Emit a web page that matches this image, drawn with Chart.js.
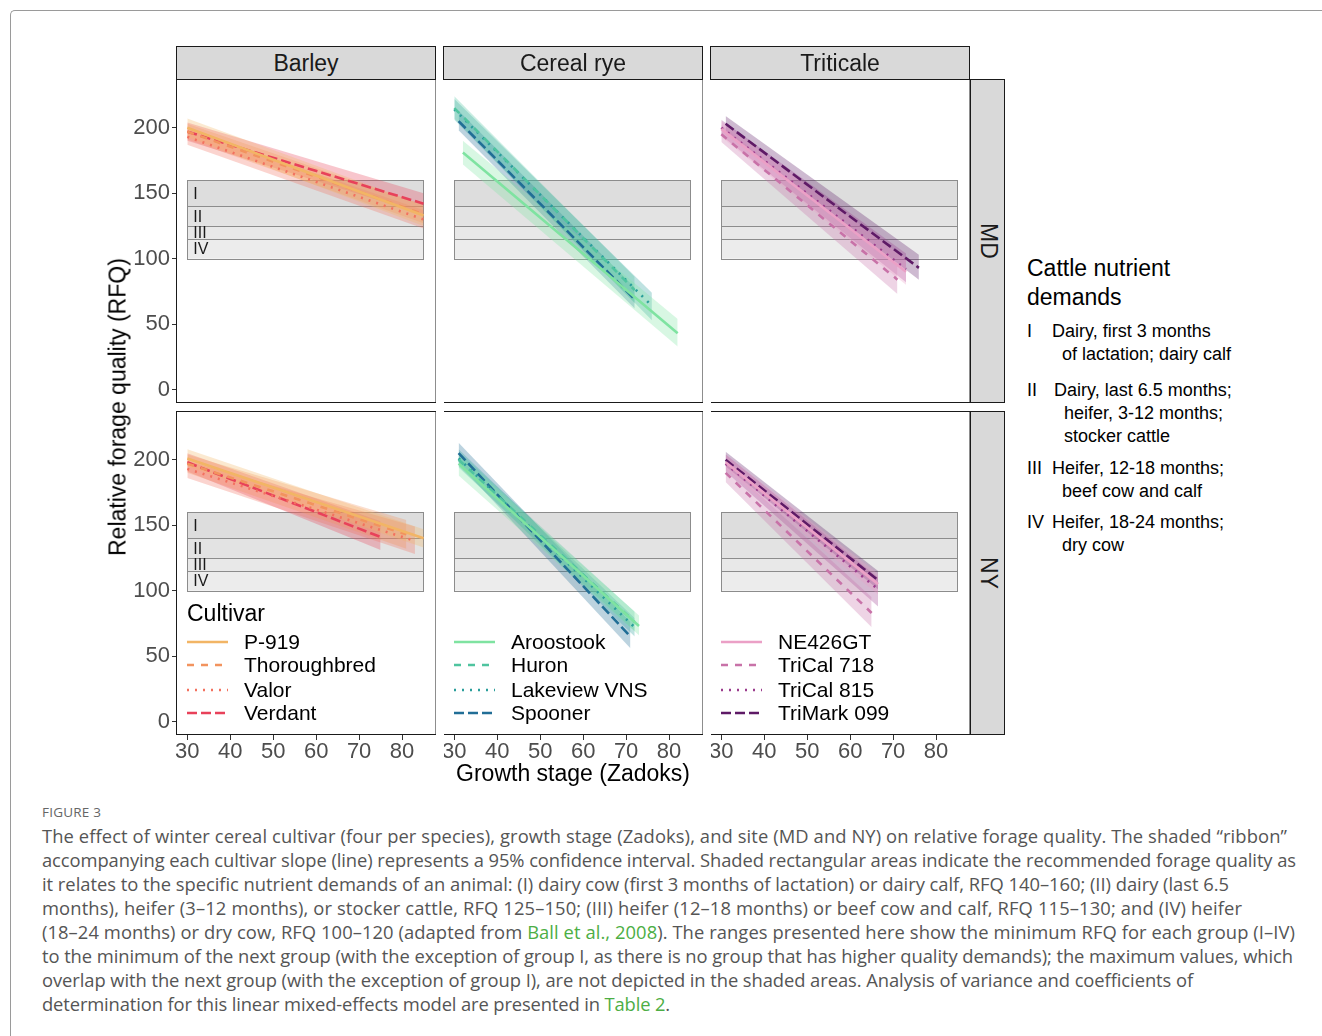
<!DOCTYPE html>
<html><head><meta charset="utf-8">
<script src="https://cdn.jsdelivr.net/npm/chart.js@4.4.0/dist/chart.umd.min.js"></script>
<style>
body{margin:0;background:#fff;width:1322px;height:1036px;overflow:hidden;position:relative;font-family:"Liberation Sans",Arial,sans-serif;color:#000;}
canvas{position:absolute;}
.t{position:absolute;white-space:nowrap;line-height:1;}
.strip{position:absolute;background:#d9d9d9;border:1px solid #1a1a1a;box-sizing:border-box;font-size:23px;color:#1a1a1a;}
.strip span{position:absolute;left:50%;top:50%;transform:translate(-50%,-50%);white-space:nowrap;}
.vstrip span{transform:translate(-50%,-50%) rotate(90deg);}
.leg{position:absolute;font-size:21px;white-space:nowrap;}
.legrow{position:absolute;height:24px;display:flex;align-items:center;}
.legrow svg{margin-right:16px;}
.cap{position:absolute;left:42px;white-space:nowrap;font-family:"Open Sans","Noto Sans",sans-serif;color:#555;line-height:1;}
.cap a{color:#4cae44;text-decoration:none;}
.page{position:absolute;left:10px;top:10px;width:1400px;height:1100px;border-left:1px solid #9a9a9a;border-top:1px solid #9a9a9a;border-top-left-radius:5px;box-sizing:border-box;}
</style>
</head><body>
<div class="page"></div>
<div id="root"></div>
<script>
// ---------------- data ----------------
const xTicks = [30, 40, 50, 60, 70, 80];
const yTicks = [0, 50, 100, 150, 200];
const species = ['Barley', 'Cereal rye', 'Triticale'];
const sites = ['MD', 'NY'];

const bandLabels = ['I', 'II', 'III', 'IV'];
const bandMin = [140, 125, 115, 100];
const bandMax = [160, 140, 125, 115];
const bandStage = [30, 85];

const barleyCultivars = ['P-919', 'Thoroughbred', 'Valor', 'Verdant'];
const ryeCultivars = ['Aroostook', 'Huron', 'Lakeview VNS', 'Spooner'];
const triticaleCultivars = ['NE426GT', 'TriCal 718', 'TriCal 815', 'TriMark 099'];

// [start, end] growth stage, fitted RFQ, lower and upper 95% CI
const barleyMD_stage = [[30, 85], [30, 85], [30, 85], [30, 85]];
const barleyMD_rfq   = [[200, 133], [197, 134], [193, 130], [197, 142]];
const barleyMD_lower = [[193, 125], [191, 127], [187, 123], [190, 134]];
const barleyMD_upper = [[207, 141], [203, 141], [199, 137], [204, 150]];

const barleyNY_stage = [[30, 85], [30, 81], [30, 83], [30, 75]];
const barleyNY_rfq   = [[201, 140], [197, 143], [193, 138], [198, 141]];
const barleyNY_lower = [[195, 133], [190, 132], [186, 128], [191, 131]];
const barleyNY_upper = [[208, 147], [204, 154], [199, 149], [205, 153]];

const ryeMD_stage = [[32, 82], [30, 72], [30, 76], [31, 72]];
const ryeMD_rfq   = [[181, 43], [215, 76], [214, 64], [205, 69]];
const ryeMD_lower = [[172, 33], [207, 66], [206, 53], [198, 62]];
const ryeMD_upper = [[190, 54], [224, 86], [222, 74], [213, 78]];

const ryeNY_stage = [[31, 73], [31, 72], [31, 72], [31, 71]];
const ryeNY_rfq   = [[197, 73], [200, 76], [201, 72], [205, 65]];
const ryeNY_lower = [[188, 66], [194, 69], [195, 65], [197, 56]];
const ryeNY_upper = [[204, 81], [206, 84], [208, 79], [213, 76]];

const triticaleMD_stage = [[30, 73], [30, 71], [30, 73], [31, 76]];
const triticaleMD_rfq   = [[199, 90], [195, 84], [200, 92], [203, 93]];
const triticaleMD_lower = [[193, 80], [189, 73], [194, 82], [197, 84]];
const triticaleMD_upper = [[205, 100], [202, 95], [206, 104], [209, 103]];

const triticaleNY_stage = [[31, 66.5], [31, 65], [31, 66.5], [31, 66.5]];
const triticaleNY_rfq   = [[198, 105], [190, 83], [197, 101], [200, 108]];
const triticaleNY_lower = [[193, 97], [183, 72], [191, 88], [195, 101]];
const triticaleNY_upper = [[204, 113], [197, 95], [204, 110], [206, 115]];

// ---------------- styles / layout ----------------
const FONT = '"Liberation Sans", Arial, sans-serif';
const palettes = [
  ['#F2B565', '#F2935E', '#F3715F', '#E8415A'],
  ['#7FE3A1', '#4FC49F', '#2A9E9B', '#216E96'],
  ['#EBA0C6', '#C872A8', '#9B3C8D', '#5E1A66']
];
const dashes = [[], [7, 7], [2, 6], [10, 4]];
const colLeft = [177, 444, 711];
const rowTop = [79, 411];
const panelW = 259, panelH = 324;
const yAxisW = 70, xAxisH = 40;
const xMin = 27.6, xMax = 87.9, yMin = -10.2, yMax = 237.2;

const panelData = [
  [[barleyMD_stage, barleyMD_rfq, barleyMD_lower, barleyMD_upper],
   [barleyNY_stage, barleyNY_rfq, barleyNY_lower, barleyNY_upper]],
  [[ryeMD_stage, ryeMD_rfq, ryeMD_lower, ryeMD_upper],
   [ryeNY_stage, ryeNY_rfq, ryeNY_lower, ryeNY_upper]],
  [[triticaleMD_stage, triticaleMD_rfq, triticaleMD_lower, triticaleMD_upper],
   [triticaleNY_stage, triticaleNY_rfq, triticaleNY_lower, triticaleNY_upper]]
];
const cultivarNames = [barleyCultivars, ryeCultivars, triticaleCultivars];

function hexA(hex, a) {
  const n = parseInt(hex.slice(1), 16);
  return `rgba(${(n >> 16) & 255},${(n >> 8) & 255},${n & 255},${a})`;
}

const bandPlugin = {
  id: 'bands',
  beforeDatasetsDraw(chart) {
    const {ctx, scales: {x, y}} = chart;
    const fills = ['#dddddd', '#e3e3e3', '#e8e8e8', '#ececec'];
    ctx.save();
    const x0 = x.getPixelForValue(bandStage[0]), x1 = x.getPixelForValue(bandStage[1]);
    for (let i = 0; i < bandMin.length; i++) {
      const yt = y.getPixelForValue(bandMax[i]), yb = y.getPixelForValue(bandMin[i]);
      ctx.fillStyle = fills[i];
      ctx.fillRect(x0, yt, x1 - x0, yb - yt);
    }
    ctx.strokeStyle = '#8c8c8c';
    ctx.lineWidth = 1;
    for (let i = 0; i < bandMin.length; i++) {
      const yt = y.getPixelForValue(bandMax[i]), yb = y.getPixelForValue(bandMin[i]);
      ctx.strokeRect(Math.round(x0) + 0.5, Math.round(yt) + 0.5, Math.round(x1 - x0), Math.round(yb - yt));
    }
    if (chart.options.plugins.bands.labels) {
      ctx.fillStyle = '#1a1a1a';
      ctx.font = '16px ' + FONT;
      ctx.textBaseline = 'middle';
      ctx.textAlign = 'left';
      for (let i = 0; i < bandMin.length; i++) {
        const ym = y.getPixelForValue((bandMax[i] + bandMin[i]) / 2);
        ctx.fillText(bandLabels[i], x.getPixelForValue(31.4), ym + 1);
      }
    }
    ctx.restore();
  }
};
const framePlugin = {
  id: 'frame',
  afterDraw(chart) {
    const {ctx, chartArea: a} = chart;
    ctx.save();
    ctx.strokeStyle = '#1a1a1a';
    ctx.lineWidth = 1;
    ctx.strokeRect(Math.round(a.left) - 0.5, Math.round(a.top) + 0.5, Math.round(a.right - a.left) + 0.5, Math.round(a.bottom - a.top) - 1);
    ctx.restore();
  }
};

const root = document.getElementById('root');
for (let c = 0; c < 3; c++) {
  for (let r = 0; r < 2; r++) {
    const showY = c === 0, showX = r === 1;
    const [stage, rfq, lower, upper] = panelData[c][r];
    const cv = document.createElement('canvas');
    const L = colLeft[c] - (showY ? yAxisW : 0);
    const W = panelW + (showY ? yAxisW : 0);
    const H = panelH + (showX ? xAxisH : 0);
    cv.width = W; cv.height = H;
    cv.style.left = L + 'px'; cv.style.top = rowTop[r] + 'px';
    cv.style.width = W + 'px'; cv.style.height = H + 'px';
    root.appendChild(cv);

    const ribbons = [], lines = [];
    for (let k = 0; k < 4; k++) {
      const col = palettes[c][k];
      ribbons.push({
        data: stage[k].map((s, i) => ({x: s, y: upper[k][i]})),
        borderWidth: 0, pointRadius: 0, fill: '+1',
        backgroundColor: hexA(col, 0.3), order: 1
      });
      ribbons.push({
        data: stage[k].map((s, i) => ({x: s, y: lower[k][i]})),
        borderWidth: 0, pointRadius: 0, fill: false, order: 1
      });
      lines.push({
        label: cultivarNames[c][k],
        data: stage[k].map((s, i) => ({x: s, y: rfq[k][i]})),
        borderColor: col, borderWidth: 2.6, borderDash: dashes[k],
        borderCapStyle: 'butt', pointRadius: 0, fill: false, order: 0
      });
    }
    new Chart(cv, {
      type: 'line',
      data: {datasets: ribbons.concat(lines)},
      options: {
        responsive: false, animation: false, devicePixelRatio: 1,
        layout: {padding: 0},
        plugins: {legend: {display: false}, tooltip: {enabled: false}, bands: {labels: c === 0}},
        elements: {line: {tension: 0}},
        scales: {
          x: {
            type: 'linear', min: xMin, max: xMax, display: showX,
            afterBuildTicks: s => { s.ticks = xTicks.map(v => ({value: v})); },
            afterFit: s => { s.height = showX ? xAxisH : 0; s.paddingLeft = 0; s.paddingRight = 0; },
            grid: {drawOnChartArea: false, drawTicks: true, tickLength: 5, color: '#333', lineWidth: 1},
            border: {display: false},
            ticks: {font: {size: 22, family: FONT}, color: '#4d4d4d', padding: -1, maxRotation: 0, autoSkip: false}
          },
          y: {
            type: 'linear', min: yMin, max: yMax, display: showY,
            afterBuildTicks: s => { s.ticks = yTicks.map(v => ({value: v})); },
            afterFit: s => { s.width = showY ? yAxisW : 0; s.paddingTop = 0; s.paddingBottom = 0; },
            grid: {drawOnChartArea: false, drawTicks: true, tickLength: 5, color: '#333', lineWidth: 1},
            border: {display: false},
            ticks: {font: {size: 22, family: FONT}, color: '#4d4d4d', padding: 2, autoSkip: false}
          }
        }
      },
      plugins: [bandPlugin, framePlugin]
    });
  }
}

// strips
function addEl(html) { root.insertAdjacentHTML('beforeend', html); }
for (let c = 0; c < 3; c++) {
  addEl(`<div class="strip" style="left:${colLeft[c] - 1}px;top:46px;width:${panelW + 1}px;height:34px"><span>${species[c]}</span></div>`);
}
for (let r = 0; r < 2; r++) {
  addEl(`<div class="strip vstrip" style="left:970px;top:${rowTop[r]}px;width:35px;height:${panelH}px"><span>${sites[r]}</span></div>`);
}
// axis titles
addEl(`<div class="t" style="font-size:23px;left:118px;top:407px;transform:translate(-50%,-50%) rotate(-90deg)">Relative forage quality (RFQ)</div>`);
addEl(`<div class="t" style="font-size:23px;left:573px;top:773px;transform:translate(-50%,-50%)">Growth stage (Zadoks)</div>`);

// cultivar legends
addEl(`<div class="t" style="font-size:23px;left:187px;top:613px;transform:translateY(-50%)">Cultivar</div>`);
const legY = [641.5, 665, 689.5, 713];
for (let c = 0; c < 3; c++) {
  for (let k = 0; k < 4; k++) {
    const da = dashes[k].length ? `stroke-dasharray="${dashes[k].join(',')}"` : '';
    addEl(`<div class="legrow" style="left:${colLeft[c] + 10}px;top:${legY[k] - 12}px">
      <svg width="41" height="6"><line x1="0" y1="3" x2="41" y2="3" stroke="${palettes[c][k]}" stroke-width="2.6" ${da}/></svg>
      <span class="leg" style="position:static">${cultivarNames[c][k]}</span></div>`);
  }
}

// nutrient demand legend
const demandTitle = ['Cattle nutrient', 'demands'];
const demandItems = [
  ['I', ['Dairy, first 3 months', 'of lactation; dairy calf'], 331],
  ['II', ['Dairy, last 6.5 months;', 'heifer, 3-12 months;', 'stocker cattle'], 390],
  ['III', ['Heifer, 12-18 months;', 'beef cow and calf'], 468],
  ['IV', ['Heifer, 18-24 months;', 'dry cow'], 522]
];
addEl(`<div class="t" style="font-size:23px;left:1027px;top:268px;transform:translateY(-50%)">${demandTitle[0]}</div>`);
addEl(`<div class="t" style="font-size:23px;left:1027px;top:297px;transform:translateY(-50%)">${demandTitle[1]}</div>`);
const firstX = {I: 1052, II: 1054, III: 1052, IV: 1052};
demandItems.forEach(([lab, lines, y0]) => {
  addEl(`<div class="t" style="font-size:18px;left:1027px;top:${y0}px;transform:translateY(-50%)">${lab}</div>`);
  lines.forEach((ln, i) => {
    const x = i === 0 ? firstX[lab] : firstX[lab] + 10;
    addEl(`<div class="t" style="font-size:18px;left:${x}px;top:${y0 + i * 23.2}px;transform:translateY(-50%)">${ln}</div>`);
  });
});

// caption
addEl(`<div class="cap" style="top:806px;font-size:13.5px;color:#666;letter-spacing:0.2px">FIGURE 3</div>`);
const capLines = [
  'The effect of winter cereal cultivar (four per species), growth stage (Zadoks), and site (MD and NY) on relative forage quality. The shaded “ribbon”',
  'accompanying each cultivar slope (line) represents a 95% confidence interval. Shaded rectangular areas indicate the recommended forage quality as',
  'it relates to the specific nutrient demands of an animal: (I) dairy cow (first 3 months of lactation) or dairy calf, RFQ 140–160; (II) dairy (last 6.5',
  'months), heifer (3–12 months), or stocker cattle, RFQ 125–150; (III) heifer (12–18 months) or beef cow and calf, RFQ 115–130; and (IV) heifer',
  '(18–24 months) or dry cow, RFQ 100–120 (adapted from <a>Ball et al., 2008</a>). The ranges presented here show the minimum RFQ for each group (I–IV)',
  'to the minimum of the next group (with the exception of group I, as there is no group that has higher quality demands); the maximum values, which',
  'overlap with the next group (with the exception of group I), are not depicted in the shaded areas. Analysis of variance and coefficients of',
  'determination for this linear mixed-effects model are presented in <a>Table 2</a>.'
];
const capTargetW = [1245, 1254, 1187, 1200, 1253, 1251, 1151, 628];
capLines.forEach((ln, i) => {
  addEl(`<div class="cap capl" style="top:${836 + i * 24}px;font-size:16.6px;transform:translateY(-50%)">${ln}</div>`);
});
// choose a font size matching the figure's overall text width, then trim each line
const capEls = Array.from(document.querySelectorAll('.capl'));
const sumW = capEls.reduce((a, e) => a + e.getBoundingClientRect().width, 0);
const sumT = capTargetW.reduce((a, b) => a + b, 0);
const fs = 16.6 * sumT / sumW;
capEls.forEach((e, i) => {
  e.style.fontSize = fs.toFixed(2) + 'px';
  const w = e.getBoundingClientRect().width;
  e.style.letterSpacing = ((capTargetW[i] - w) / e.textContent.length).toFixed(3) + 'px';
});
</script>
</body></html>
